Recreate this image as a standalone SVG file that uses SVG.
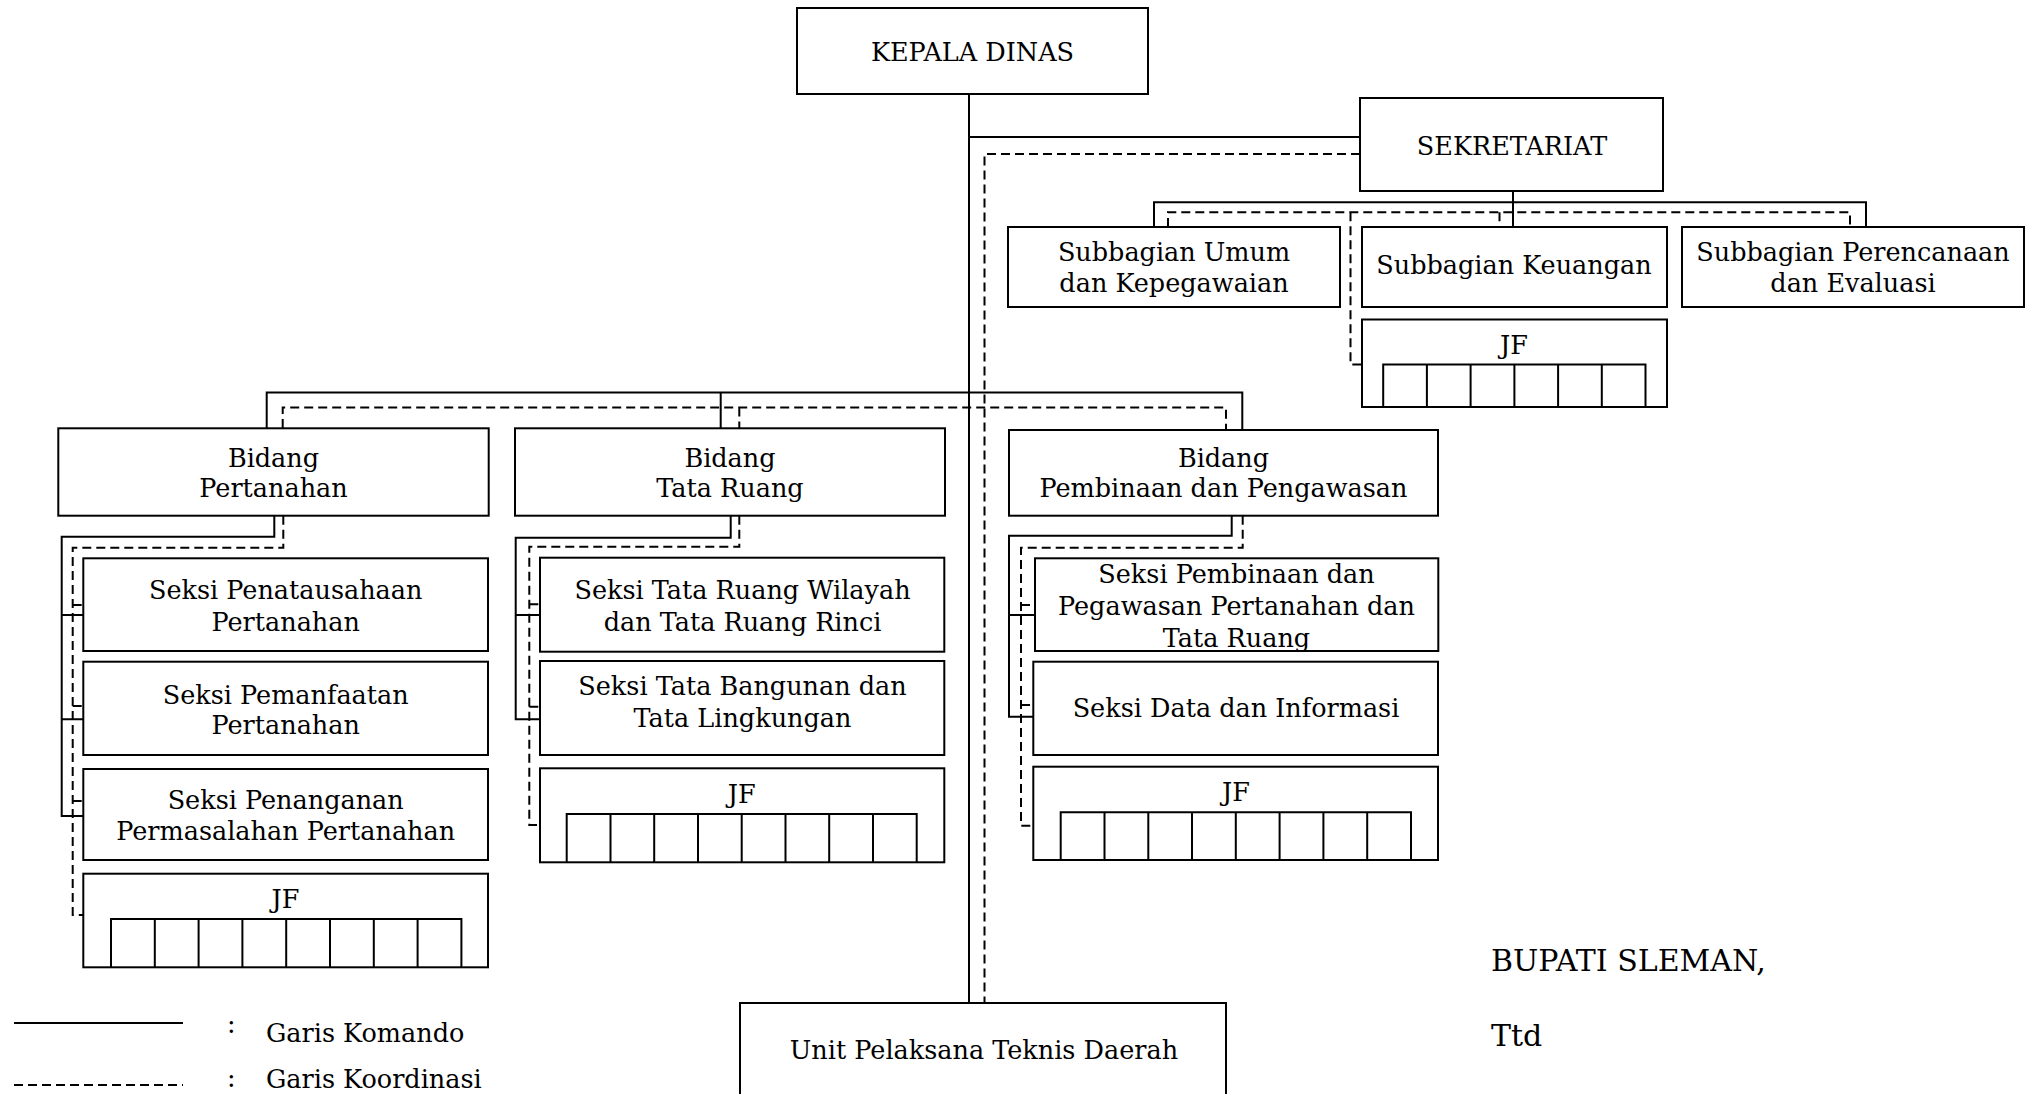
<svg xmlns="http://www.w3.org/2000/svg" width="2036" height="1094" viewBox="0 0 2036 1094">
<style>
.box{fill:#fff;stroke:#000;stroke-width:2}
.cmd{fill:none;stroke:#000;stroke-width:2}
.crd{fill:none;stroke:#000;stroke-width:2;stroke-dasharray:9 5}
.grid{fill:none;stroke:#000;stroke-width:2}
text{font-family:"DejaVu Serif","Liberation Serif",serif;font-size:25.5px;fill:#000}
.c{text-anchor:middle}
.sig{font-size:30px}
</style>
<rect width="2036" height="1094" fill="#fff"/>
<g id="connectors">
<path class="cmd" d="M969,94V1003M969,137H1360M1513,191V227M1154,227V202.3H1866V227M266.7,428V392.5H1242.3V430M720.7,392.5V428"/>
<path class="cmd" d="M274.3,515.7V536.7H61.7V816H83M61.7,615H83.3M61.7,719.3H83.3"/>
<path class="cmd" d="M730.7,515.7V537.7H515.7V719.3H540M515.7,615H540"/>
<path class="cmd" d="M1231.7,515.7V535.7H1009V716.7H1033.3M1009,615H1035"/>
<path class="crd" d="M1360,154H984.5V1003"/>
<path class="crd" d="M1168,227V212.3H1850V227M1499.5,212.3V227M1350.5,212.3V364.5H1362"/>
<path class="crd" d="M282.7,428V407.5H1226V430M739.3,407.5V428"/>
<path class="crd" d="M283.3,515.7V547.7H72.7V915H83M72.7,605H83.3M72.7,706H83.3M72.7,801H83"/>
<path class="crd" d="M739.3,515.7V546.7H529.3V825H540M529.3,604.3H540M529.3,706.7H540"/>
<path class="crd" d="M1242.7,515.7V547.7H1021V825.7H1033.3M1021,605H1035M1021,705H1033.3"/>
</g>
<g id="kepala-dinas"><rect class="box" x="797" y="8" width="351" height="86"/><text class="c" x="972.5" y="61">KEPALA DINAS</text></g>
<g id="sekretariat"><rect class="box" x="1360" y="98" width="303" height="93"/><text class="c" x="1512" y="155">SEKRETARIAT</text></g>
<g id="subbag-umum"><rect class="box" x="1008" y="227" width="332" height="80"/><text class="c" x="1174" y="261">Subbagian Umum</text><text class="c" x="1174" y="292">dan Kepegawaian</text></g>
<g id="subbag-keuangan"><rect class="box" x="1362" y="227" width="305" height="80"/><text class="c" x="1514" y="274">Subbagian Keuangan</text></g>
<g id="subbag-perencanaan"><rect class="box" x="1682" y="227" width="342" height="80"/><text class="c" x="1853" y="261">Subbagian Perencanaan</text><text class="c" x="1853" y="292">dan Evaluasi</text></g>
<g id="jf-sekretariat"><rect class="box" x="1362" y="319.5" width="305" height="87.5"/><text class="c" x="1514" y="354">JF</text>
<path class="grid" d="M1383.2,407V364.5H1645.5V407M1426.9,364.5V407M1470.6,364.5V407M1514.4,364.5V407M1558.1,364.5V407M1601.8,364.5V407"/></g>
<g id="bidang-pertanahan"><rect class="box" x="58.3" y="428.3" width="430.4" height="87.4"/><text class="c" x="273.5" y="466.7">Bidang</text><text class="c" x="273.5" y="497.3">Pertanahan</text></g>
<g id="bidang-tata-ruang"><rect class="box" x="515" y="428.3" width="430" height="87.4"/><text class="c" x="730" y="466.7">Bidang</text><text class="c" x="730" y="496.7">Tata Ruang</text></g>
<g id="bidang-pp"><rect class="box" x="1009" y="430" width="429" height="85.7"/><text class="c" x="1223.5" y="467.3">Bidang</text><text class="c" x="1223.5" y="497.3">Pembinaan dan Pengawasan</text></g>
<g id="seksi-penatausahaan"><rect class="box" x="83.3" y="558.3" width="404.7" height="92.7"/><text class="c" x="285.7" y="599">Seksi Penatausahaan</text><text class="c" x="285.7" y="631">Pertanahan</text></g>
<g id="seksi-pemanfaatan"><rect class="box" x="83.3" y="661.7" width="404.7" height="93.3"/><text class="c" x="285.7" y="703.5">Seksi Pemanfaatan</text><text class="c" x="285.7" y="733.5">Pertanahan</text></g>
<g id="seksi-penanganan"><rect class="box" x="83.3" y="769" width="404.7" height="91"/><text class="c" x="285.7" y="809">Seksi Penanganan</text><text class="c" x="285.7" y="840">Permasalahan Pertanahan</text></g>
<g id="jf-pertanahan"><rect class="box" x="83.3" y="873.7" width="404.7" height="93.6"/><text class="c" x="285.5" y="908">JF</text>
<path class="grid" d="M111,967.3V919H461.4V967.3M154.8,919V967.3M198.6,919V967.3M242.4,919V967.3M286.2,919V967.3M330,919V967.3M373.8,919V967.3M417.6,919V967.3"/></g>
<g id="seksi-trw"><rect class="box" x="540" y="557.7" width="404.3" height="94"/><text class="c" x="742.5" y="599.3">Seksi Tata Ruang Wilayah</text><text class="c" x="742.5" y="630.5">dan Tata Ruang Rinci</text></g>
<g id="seksi-tb"><rect class="box" x="540" y="661" width="404.3" height="94"/><text class="c" x="742.5" y="694.5">Seksi Tata Bangunan dan</text><text class="c" x="742.5" y="726.5">Tata Lingkungan</text></g>
<g id="jf-tata-ruang"><rect class="box" x="540" y="768.3" width="404.3" height="94"/><text class="c" x="741.7" y="802.5">JF</text>
<path class="grid" d="M566.7,862.3V814H916.7V862.3M610.5,814V862.3M654.2,814V862.3M698,814V862.3M741.7,814V862.3M785.5,814V862.3M829.2,814V862.3M873,814V862.3"/></g>
<g id="seksi-pembinaan"><rect class="box" x="1035" y="558.3" width="403.3" height="92.7"/><text class="c" x="1236.5" y="583.3">Seksi Pembinaan dan</text><text class="c" x="1236.5" y="615">Pegawasan Pertanahan dan</text><text class="c" x="1236.5" y="646.7">Tata Ruang</text></g>
<g id="seksi-data"><rect class="box" x="1033.3" y="661.7" width="404.7" height="93.3"/><text class="c" x="1236" y="717">Seksi Data dan Informasi</text></g>
<g id="jf-pp"><rect class="box" x="1033.3" y="766.7" width="404.7" height="93.3"/><text class="c" x="1236" y="800.5">JF</text>
<path class="grid" d="M1060.7,860V812.3H1411V860M1104.5,812.3V860M1148.3,812.3V860M1192,812.3V860M1235.8,812.3V860M1279.6,812.3V860M1323.4,812.3V860M1367.2,812.3V860"/></g>
<g id="uptd"><rect class="box" x="740" y="1003" width="486" height="110"/><text class="c" x="984" y="1058.5">Unit Pelaksana Teknis Daerah</text></g>
<g id="signature"><text class="sig" x="1491" y="971">BUPATI SLEMAN,</text><text class="sig" x="1491" y="1046">Ttd</text></g>
<g id="legend">
<path class="cmd" d="M14,1023H183"/><path class="crd" d="M14,1085H183"/>
<text x="227" y="1033">:</text><text x="266" y="1042">Garis Komando</text>
<text x="227" y="1087">:</text><text x="266" y="1088">Garis Koordinasi</text>
</g>
</svg>
